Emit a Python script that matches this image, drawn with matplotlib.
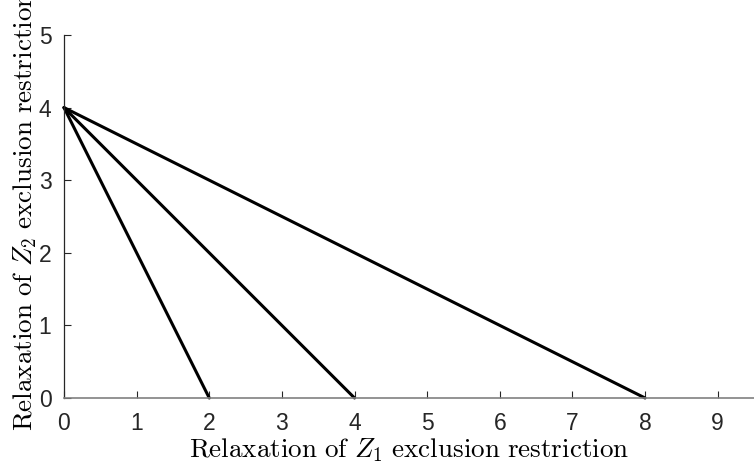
import matplotlib
matplotlib.use('Agg')
import matplotlib.pyplot as plt

# each line goes from (0, 4) down to an x-intercept
y_start = 4
x_ends = [2, 4, 8]
x_ticks = list(range(0, 10))
y_ticks = list(range(0, 6))

plt.rcParams['mathtext.fontset'] = 'cm'
plt.rcParams['font.family'] = ['Liberation Sans', 'DejaVu Sans']

fig = plt.figure(figsize=(7.54, 4.69), dpi=100)
ax = fig.add_axes([64 / 754, 1 - 398 / 469, 1 - 64 / 754, (398 - 35) / 469])

for xe in x_ends:
    ax.plot([0, xe], [y_start, 0], color='black', lw=2.2, solid_capstyle='round', clip_on=False)

ax.set_xlim(0, 9.5)
ax.set_ylim(0, 5)
ax.set_xticks(x_ticks)
ax.set_yticks(y_ticks)
ax.tick_params(direction='in', length=5, width=0.8, labelsize=16.5, colors='#262626')
ax.tick_params(axis='x', pad=10)
ax.tick_params(axis='y', pad=9)
ax.spines['top'].set_visible(False)
ax.spines['right'].set_visible(False)
ax.spines['left'].set_color('#262626')
ax.spines['bottom'].set_color('#808080')
ax.spines['left'].set_linewidth(0.9)
ax.spines['bottom'].set_linewidth(1.2)

ax.set_xlabel(r'$\mathrm{Relaxation\ of\ }Z_1\mathrm{\ exclusion\ restriction}$', fontsize=19.5, labelpad=1)
ax.set_ylabel(r'$\mathrm{Relaxation\ of\ }Z_2\mathrm{\ exclusion\ restriction}$', fontsize=19.5, labelpad=0)
ax.yaxis.label.set_y(0.515)

fig.savefig('out.png', dpi=100)
